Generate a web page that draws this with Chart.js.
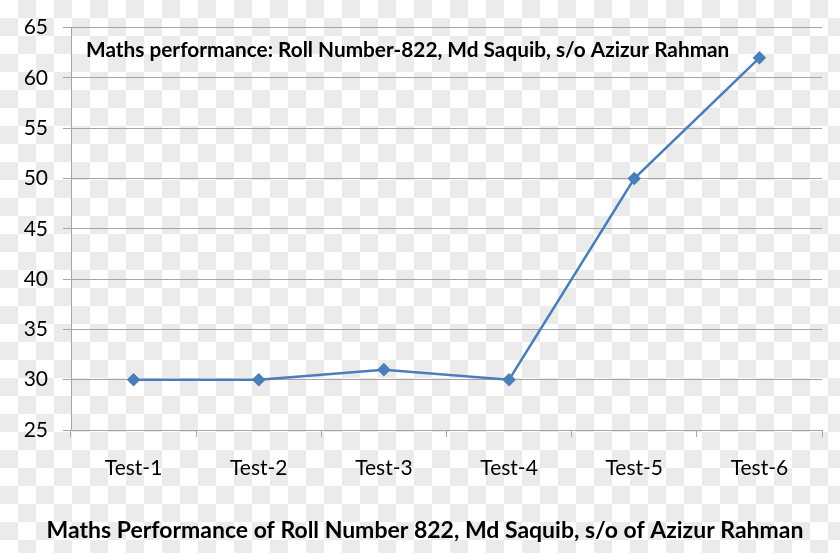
<!DOCTYPE html>
<html>
<head>
<meta charset="utf-8">
<script src="https://cdn.jsdelivr.net/npm/chart.js@4.4.1/dist/chart.umd.min.js"></script>
<style>
  html, body { margin: 0; padding: 0; }
  body {
    width: 840px; height: 553px; overflow: hidden;
    background-color: #ffffff;
    background-image: conic-gradient(#ebebeb 25%, #ffffff 0 50%, #ebebeb 0 75%, #ffffff 0);
    background-size: 36px 36px;
  }
  #wrap { position: relative; width: 840px; height: 553px; }
</style>
</head>
<body>
<div id="wrap"><canvas id="chart"></canvas></div>
<script>
const tests = ['Test-1', 'Test-2', 'Test-3', 'Test-4', 'Test-5', 'Test-6'];
const marks = [30, 30, 31, 30, 50, 62];
const yTicks = [25, 30, 35, 40, 45, 50, 55, 60, 65];

const innerTitle = 'Maths performance: Roll Number-822, Md Saquib, s/o Azizur Rahman';
const bottomTitle = 'Maths Performance of Roll Number 822, Md Saquib, s/o of Azizur Rahman';

const COLORS = {
  line: '#4a7ebb',
  grid: '#a6a6a6',
  text: '#000000',
};
const FONT = "Lato, 'Open Sans', sans-serif";

// two titles: one inside the plot top-left, one under the whole chart
const titlesPlugin = {
  id: 'titles',
  afterDraw(chart) {
    const { ctx, chartArea } = chart;
    ctx.save();
    ctx.fillStyle = COLORS.text;
    ctx.textBaseline = 'middle';
    ctx.font = `bold 20.8px ${FONT}`;
    ctx.textAlign = 'left';
    ctx.fillText(innerTitle, chartArea.left + 15, chartArea.top + 23);
    ctx.font = `bold 23px ${FONT}`;
    ctx.textAlign = 'center';
    ctx.fillText(bottomTitle, chart.width / 2 + 5, chart.height - 22);
    ctx.restore();
  },
};

new Chart(document.getElementById('chart'), {
  type: 'line',
  data: {
    labels: tests,
    datasets: [{
      data: marks,
      borderColor: COLORS.line,
      backgroundColor: COLORS.line,
      borderWidth: 2.5,
      pointStyle: 'rectRot',
      pointRadius: 5,
      pointHoverRadius: 5,
      tension: 0,
    }],
  },
  options: {
    responsive: true,
    maintainAspectRatio: false,
    animation: false,
    layout: { padding: { left: 0, right: 18, top: 16, bottom: 36 } },
    plugins: {
      legend: { display: false },
      tooltip: { enabled: false },
      title: { display: false },
    },
    scales: {
      x: {
        offset: true,
        grid: { offset: true, drawOnChartArea: false, drawTicks: true, tickLength: 7, color: COLORS.grid },
        border: { color: COLORS.grid },
        ticks: { color: COLORS.text, font: { family: FONT, size: 21 }, padding: 19, maxRotation: 0 },
        afterFit(scale) { scale.height = 87; },
      },
      y: {
        min: 25,
        max: 65,
        afterBuildTicks(scale) { scale.ticks = yTicks.map((v) => ({ value: v })); },
        grid: { color: COLORS.grid, tickLength: 8 },
        border: { color: COLORS.grid },
        ticks: { color: COLORS.text, font: { family: FONT, size: 21 }, padding: 15 },
        afterFit(scale) { scale.width = 71; },
      },
    },
  },
  plugins: [titlesPlugin],
});
</script>
</body>
</html>
